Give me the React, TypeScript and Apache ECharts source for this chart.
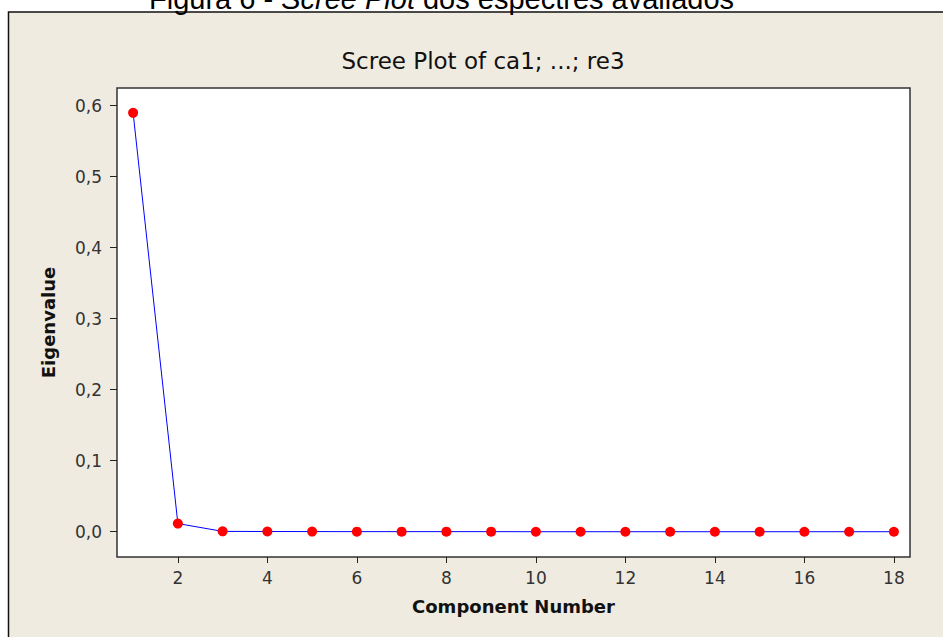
import React, { useEffect, useRef } from "react";
import * as echarts from "echarts";

const components = [1, 2, 3, 4, 5, 6, 7, 8, 9, 10, 11, 12, 13, 14, 15, 16, 17, 18];
const eigenvalues = [0.59, 0.0115, 0.0005, 0.0003, 0.0002, 0.0001, 0.0001, 0.0001, 0.0001, 0.0, 0.0, 0.0, 0.0, 0.0, 0.0, 0.0, 0.0, 0.0];
const xTicks = [2, 4, 6, 8, 10, 12, 14, 16, 18];
const yTicks = [0, 0.1, 0.2, 0.3, 0.4, 0.5, 0.6];

const chartTitle = "Scree Plot of ca1; ...; re3";
const caption = "Figura 6 - ";
const captionItalic = "Scree Plot";
const captionRest = " dos espectres avaliados";

export default function App() {
  const ref = useRef<HTMLDivElement>(null);
  useEffect(() => {
    document.body.style.margin = "0";
    const chart = echarts.init(ref.current!, null, { renderer: "svg" });
    const font = "DejaVu Sans";
    chart.setOption({
      animation: false,
      backgroundColor: "#ffffff",
      graphic: [
        {
          type: "rect",
          z: -10,
          silent: true,
          shape: { x: 8.5, y: 12, width: 1000, height: 700 },
          style: { fill: "#EFEBE1", stroke: "#111", lineWidth: 1.5 },
        },
        {
          type: "text",
          x: 149,
          y: 13,
          z: -5,
          style: {
            text: "{a|" + caption + "}{b|" + captionItalic + "}{a|" + captionRest + "}",
            rich: {
              a: { fontFamily: "Liberation Sans", fontSize: 29, fill: "#000" },
              b: { fontFamily: "Liberation Sans", fontSize: 29, fontStyle: "italic", fill: "#000" },
            },
            verticalAlign: "bottom",
          },
        },
      ],
      title: {
        text: chartTitle,
        left: 478,
        textAlign: "center",
        top: 44,
        textStyle: { fontFamily: font, fontSize: 23, fontWeight: "normal", color: "#111" },
      },
      grid: {
        left: 117,
        top: 88,
        right: 33,
        bottom: 80,
        show: true,
        backgroundColor: "#ffffff",
        borderColor: "#333",
        borderWidth: 1.5,
      },
      xAxis: {
        type: "value",
        min: 0.64,
        max: 18.36,
        name: "Component Number",
        nameLocation: "middle",
        nameGap: 40,
        nameTextStyle: { fontFamily: font, fontSize: 18, fontWeight: "bold", color: "#111" },
        axisLine: { show: false, onZero: false },
        splitLine: { show: false },
        axisTick: { show: true, inside: false, length: 6, lineStyle: { color: "#222" }, customValues: xTicks },
        axisLabel: { fontFamily: font, fontSize: 17, color: "#333", margin: 12, customValues: xTicks },
      },
      yAxis: {
        type: "value",
        min: -0.0356,
        max: 0.625,
        name: "Eigenvalue",
        nameLocation: "middle",
        nameGap: 60,
        nameTextStyle: { fontFamily: font, fontSize: 18, fontWeight: "bold", color: "#111" },
        axisLine: { show: false, onZero: false },
        splitLine: { show: false },
        axisTick: { show: true, inside: false, length: 7, lineStyle: { color: "#222" }, customValues: yTicks },
        axisLabel: {
          fontFamily: font,
          fontSize: 17,
          color: "#333",
          margin: 15,
          customValues: yTicks,
          formatter: (v: number) => v.toFixed(1).replace(".", ","),
        },
      },
      series: [
        {
          type: "line",
          data: components.map((c, i) => [c, eigenvalues[i]]),
          symbol: "circle",
          symbolSize: 10,
          itemStyle: { color: "#FF0000" },
          lineStyle: { color: "#0000FF", width: 1 },
        },
      ],
    });
    return () => chart.dispose();
  }, []);
  return <div ref={ref} style={{ width: 943, height: 637 }} />;
}
